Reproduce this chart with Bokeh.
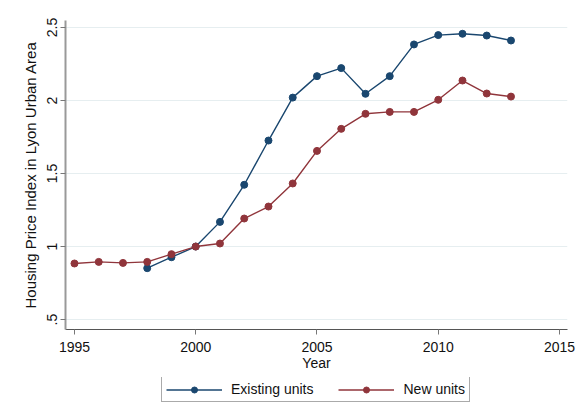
from bokeh.plotting import figure
from bokeh.layouts import column
from bokeh.models import Range1d, FixedTicker, Legend, LegendItem, ColumnDataSource
from bokeh.embed import file_html
from bokeh.resources import INLINE

years_existing = [1998, 1999, 2000, 2001, 2002, 2003, 2004, 2005, 2006, 2007, 2008, 2009, 2010, 2011, 2012, 2013]
existing_units = [0.852, 0.927, 1.0, 1.169, 1.423, 1.726, 2.02, 2.167, 2.222, 2.046, 2.167, 2.384, 2.448, 2.457, 2.445, 2.411]
years_new = [1995, 1996, 1997, 1998, 1999, 2000, 2001, 2002, 2003, 2004, 2005, 2006, 2007, 2008, 2009, 2010, 2011, 2012, 2013]
new_units = [0.884, 0.895, 0.888, 0.895, 0.948, 1.0, 1.021, 1.192, 1.274, 1.432, 1.655, 1.806, 1.909, 1.922, 1.922, 2.005, 2.137, 2.048, 2.027]
x_ticks = [1995, 2000, 2005, 2010, 2015]
y_ticks = [0.5, 1.0, 1.5, 2.0, 2.5]
y_tick_labels = [".5", "1", "1.5", "2", "2.5"]
series_labels = ["Existing units", "New units"]

BLUE = "#1a476f"
RED = "#90353b"
FONT = "Liberation Sans"

p = figure(width=583, height=377, output_backend="svg", toolbar_location=None,
           x_range=Range1d(1994.63, 2015.33), y_range=Range1d(0.432, 2.548),
           min_border_left=65, min_border_right=16, min_border_top=20, min_border_bottom=48)
p.outline_line_color = None
p.background_fill_color = "white"
p.border_fill_color = "white"

p.xgrid.grid_line_color = None
p.ygrid.grid_line_color = "#e6eef0"
p.ygrid.grid_line_width = 1

p.xaxis.ticker = FixedTicker(ticks=x_ticks)
p.yaxis.ticker = FixedTicker(ticks=y_ticks)
p.yaxis.major_label_overrides = {t: l for t, l in zip(y_ticks, y_tick_labels)}
p.yaxis.major_label_orientation = "vertical"

for ax in (p.xaxis[0], p.yaxis[0]):
    ax.minor_tick_line_color = None
    ax.major_tick_in = 0
    ax.major_tick_out = 5
    ax.major_label_text_font = FONT
    ax.major_label_text_font_size = "14px"
    ax.major_label_text_color = "#111111"
    ax.axis_label_text_font = FONT
    ax.axis_label_text_font_size = "14px"
    ax.axis_label_text_font_style = "normal"
    ax.axis_label_text_color = "#111111"
    ax.major_label_standoff = 3
    ax.axis_label_standoff = 0

p.xaxis.axis_label = "Year"
p.xaxis.major_label_standoff = 7
p.xaxis.axis_line_color = "#555555"
p.xaxis.major_tick_line_color = "#777777"
p.yaxis.axis_label = "Housing Price Index in Lyon Urban Area"
p.yaxis.axis_label_text_font_size = "15px"
p.yaxis.axis_line_color = "#999999"
p.yaxis.axis_line_width = 2
p.yaxis.major_tick_line_color = "#777777"
p.yaxis.axis_label_standoff = 6

src_e = ColumnDataSource(dict(x=years_existing, y=existing_units))
src_n = ColumnDataSource(dict(x=years_new, y=new_units))

p.line("x", "y", source=src_e, color=BLUE, line_width=1.4)
p.scatter("x", "y", source=src_e, color=BLUE, size=7)
p.line("x", "y", source=src_n, color=RED, line_width=1.4)
p.scatter("x", "y", source=src_n, color=RED, size=7)

# legend strip below the chart (same series, drawn out of view so only the legend shows)
q = figure(width=583, height=43, output_backend="svg", toolbar_location=None,
           x_range=Range1d(0, 1), y_range=Range1d(0, 1),
           x_axis_location=None, y_axis_location=None,
           min_border_left=0, min_border_right=0, min_border_top=0, min_border_bottom=0)
q.outline_line_color = None
q.xgrid.grid_line_color = None
q.ygrid.grid_line_color = None
q.background_fill_color = "white"
q.border_fill_color = "white"
le = q.line("x", "y", source=src_e, color=BLUE, line_width=1.4)
ce = q.scatter("x", "y", source=src_e, color=BLUE, size=7)
ln = q.line("x", "y", source=src_n, color=RED, line_width=1.4)
cn = q.scatter("x", "y", source=src_n, color=RED, size=7)

legend = Legend(items=[LegendItem(label=series_labels[0], renderers=[le, ce]),
                       LegendItem(label=series_labels[1], renderers=[ln, cn])],
                orientation="horizontal", location=(96, 18))
legend.border_line_color = "#555555"
legend.border_line_width = 1
legend.background_fill_color = "white"
legend.background_fill_alpha = 1
legend.label_text_font = FONT
legend.label_text_font_size = "14px"
legend.label_text_color = "#111111"
legend.glyph_width = 56
legend.glyph_height = 15
legend.label_height = 15
legend.label_standoff = 9
legend.spacing = 25
legend.padding = 4
legend.margin = 0
q.add_layout(legend, "center")

layout = column(p, q, spacing=0)
open("out.html", "w").write(file_html(layout, INLINE))
